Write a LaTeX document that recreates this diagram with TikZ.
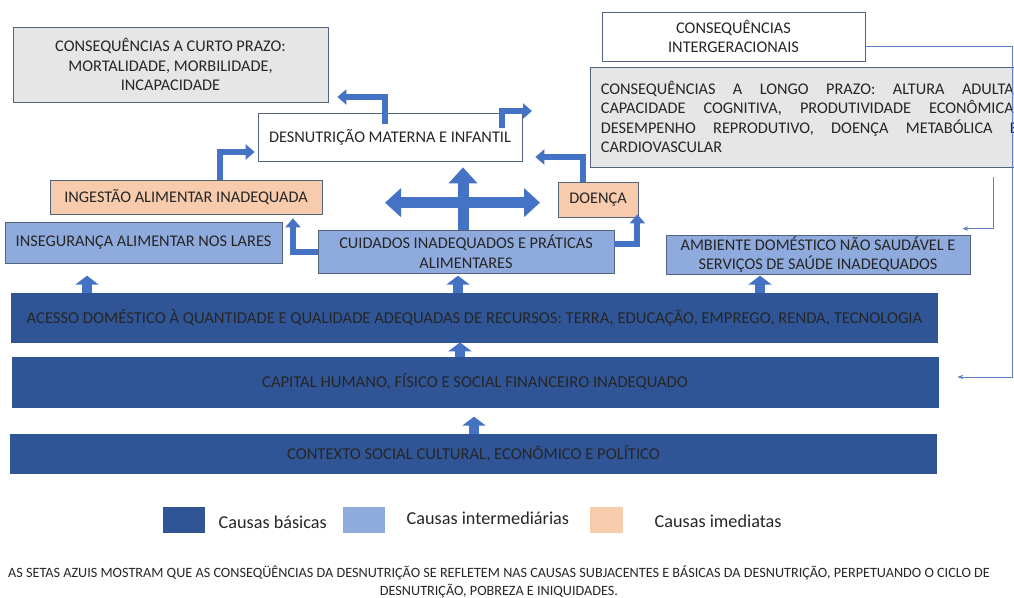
\documentclass[tikz,border=0pt]{standalone}
\usepackage{fontspec}
\setmainfont{Carlito}
\usepackage{xcolor}
\usetikzlibrary{positioning,arrows.meta}
\definecolor{BasicBlue}{HTML}{2F5597}
\definecolor{MidBlue}{HTML}{8FAADC}
\definecolor{NearPeach}{HTML}{F8CBAD}
\definecolor{ConsGray}{HTML}{E7E6E6}
\definecolor{ArrowBlue}{HTML}{4472C4}
\definecolor{EdgeSlate}{HTML}{53637E}
\definecolor{LinkBlue}{HTML}{5B82C6}
\definecolor{Ink}{HTML}{262626}

\begin{document}
\begin{tikzpicture}[x=1pt, y=-1pt,
  every node/.style={font=\fontsize{16.3}{19.5}\selectfont, text=Ink},
  cbox/.style ={draw=EdgeSlate, line width=0.7pt, inner sep=0pt, align=center},
  cons/.style ={cbox, fill=ConsGray},
  plain/.style={cbox, fill=white},
  near/.style ={cbox, fill=NearPeach},
  mid/.style  ={cbox, fill=MidBlue},
  basic/.style={cbox, fill=BasicBlue, draw=BasicBlue, minimum width=926pt,
                font=\fontsize{16.6}{19.5}\selectfont},
  key/.style  ={inner sep=0pt, minimum width=42pt, minimum height=26pt},
  keytext/.style={font=\fontsize{18.2}{21}\selectfont, anchor=west},
  elbow/.style={draw=ArrowBlue, line width=6pt, line join=miter,
                -{Triangle[width=15pt,length=9pt]}},
  fat/.style  ={draw=ArrowBlue, line width=11pt, -{Triangle[width=28pt,length=16pt]}},
  fatboth/.style={fat, {Triangle[width=28pt,length=16pt]}-{Triangle[width=28pt,length=16pt]}},
  rise/.style ={draw=ArrowBlue, line width=10pt, -{Triangle[width=23pt,length=9pt]}},
  link/.style ={draw=LinkBlue, line width=0.8pt, -{Stealth[length=6pt,width=4.5pt]}}]
\useasboundingbox (0,0) rectangle (1014,597);
\clip (0,0) rectangle (1014,597);

% consequences
\node[cons, minimum width=315pt, minimum height=75pt] (short) at (170.5,64.5)
  {CONSEQUÊNCIAS A CURTO PRAZO:\\MORTALIDADE, MORBILIDADE,\\INCAPACIDADE};
\node[plain, minimum width=263pt, minimum height=49pt] (inter) at (733.5,36.5)
  {CONSEQUÊNCIAS\\INTERGERACIONAIS};
\node[cons, minimum width=438pt, minimum height=100pt, text width=417pt,
      inner xsep=8pt, align=justify, anchor=west] (long) at (590,117)
  {CONSEQUÊNCIAS A LONGO PRAZO: ALTURA ADULTA,\linebreak
   CAPACIDADE COGNITIVA, PRODUTIVIDADE ECONÔMICA,\linebreak
   DESEMPENHO REPRODUTIVO, DOENÇA METABÓLICA E\linebreak
   CARDIOVASCULAR};

% outcome and causes
\node[plain, minimum width=264pt, minimum height=48pt] (desn) at (390,137)
  {DESNUTRIÇÃO MATERNA E INFANTIL};
\node[near, minimum width=272pt, minimum height=34pt] (intake) at (186,197)
  {INGESTÃO ALIMENTAR INADEQUADA};
\node[near, minimum width=80pt, minimum height=35pt] (disease) at (598,199.5)
  {DOENÇA};
\node[mid, minimum width=277pt, minimum height=41pt] (insec) at (143.5,242.5)
  {INSEGURANÇA ALIMENTAR NOS LARES};
\node[mid, minimum width=296pt, minimum height=43pt] (care) at (466,251.5)
  {CUIDADOS INADEQUADOS E PRÁTICAS\\ALIMENTARES};
\node[mid, minimum width=304pt, minimum height=39pt] (env) at (818,254.5)
  {AMBIENTE DOMÉSTICO NÃO SAUDÁVEL E\\SERVIÇOS DE SAÚDE INADEQUADOS};
\node[basic, minimum height=49pt] (access) at (474.5,317.5)
  {ACESSO DOMÉSTICO À QUANTIDADE E QUALIDADE ADEQUADAS DE RECURSOS: TERRA, EDUCAÇÃO, EMPREGO, RENDA, TECNOLOGIA};
\node[basic, minimum height=50pt] (capital) at (475,382)
  {CAPITAL HUMANO, FÍSICO E SOCIAL FINANCEIRO INADEQUADO};
\node[basic, minimum height=39pt] (context) at (473.5,453.5)
  {CONTEXTO SOCIAL CULTURAL, ECONÔMICO E POLÍTICO};

% block arrows
\foreach \dx in {-387.5,-16.5,285.5} {\draw[rise] ([xshift=\dx pt]access.north) -- ++(0,-17);}
\draw[rise] ([xshift=-15pt]capital.north) -- (access.south -| 460,0);
\draw[rise] ([xshift=0.5pt]context.north) -- ++(0,-17);
\draw[elbow] ([xshift=34pt]intake.north) |- ([xshift=-3pt,yshift=-15pt]desn.west);
\draw[elbow] ([xshift=-5pt,yshift=-11pt]desn.north) |- ([xshift=9pt,yshift=-32.5pt]short.east);
\draw[elbow] ([xshift=-20pt,yshift=-15pt]desn.north east) |- ([xshift=-58pt,yshift=6pt]long.west);
\draw[elbow] ([xshift=-15pt]disease.north) |- ([xshift=13pt,yshift=-20pt]desn.east);
\draw[elbow] (care.west) -| ([xshift=107pt,yshift=-4pt]intake.south);
\draw[elbow] ([yshift=8pt]care.east) -| ([xshift=-1pt,yshift=3pt]disease.south east);
\draw[fat] ([xshift=-3pt]care.north) -- ([xshift=73pt,yshift=-6pt]desn.south);
\draw[fatboth] ([xshift=-81pt,yshift=27pt]care.north) -- ([xshift=74pt,yshift=27pt]care.north);

% feedback lines
\draw[link] ([yshift=-10pt]inter.east) -- ++(147,0) |- ([xshift=19pt,yshift=5pt]capital.east);
\draw[link] ([xshift=403pt,yshift=-60pt]long.west) |- ([xshift=-8pt,yshift=6pt]env.north east);

% legend
\node[key, fill=BasicBlue] (k1) at (184,520) {};
\node[keytext, right=10pt of k1, yshift=-2pt] (t1) {Causas básicas};
\node[key, fill=MidBlue] (k2) at (364,519.5) {};
\node[keytext, right=18pt of k2, yshift=1pt] (t2) {Causas intermediárias};
\node[key, fill=NearPeach, minimum width=33pt] (k3) at (606.5,519.5) {};
\node[keytext, right=28pt of k3, yshift=-2pt] (t3) {Causas imediatas};

\node[font=\fontsize{14.2}{18}\selectfont, align=center] (note) at (499,582)
  {AS SETAS AZUIS MOSTRAM QUE AS CONSEQÜÊNCIAS DA DESNUTRIÇÃO SE REFLETEM NAS CAUSAS SUBJACENTES E BÁSICAS DA DESNUTRIÇÃO, PERPETUANDO O CICLO DE\\DESNUTRIÇÃO, POBREZA E INIQUIDADES.};
\end{tikzpicture}
\end{document}
